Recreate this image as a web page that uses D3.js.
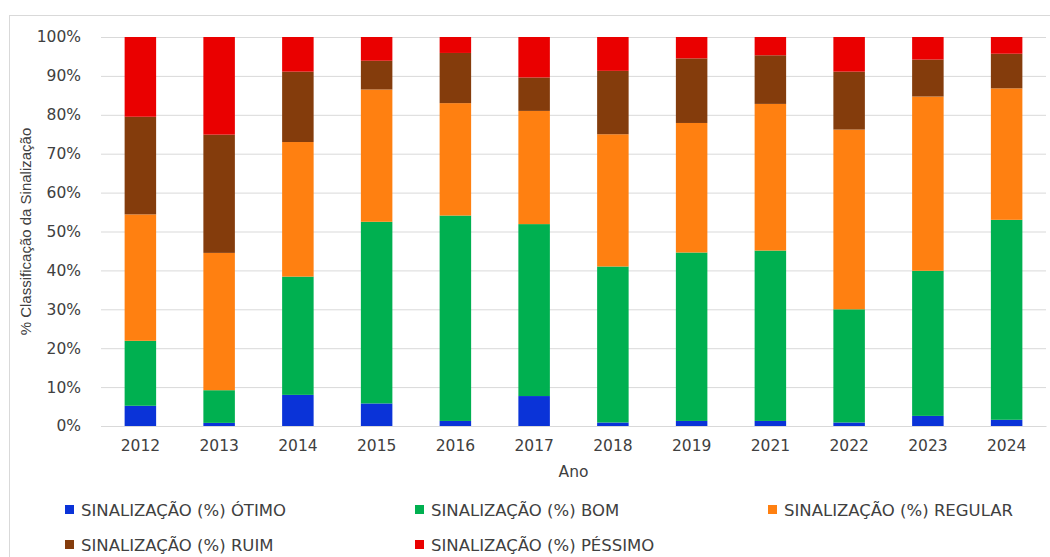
<!DOCTYPE html>
<html><head><meta charset="utf-8">
<script src="https://cdn.jsdelivr.net/npm/d3@7"></script>
<style>body{margin:0;background:#fff;font-family:"DejaVu Sans",sans-serif;}</style>
</head><body><svg id="c" width="1050" height="557"></svg>
<script>
const years = ["2012","2013","2014","2015","2016","2017","2018","2019","2021","2022","2023","2024"];
const seriesNames = ["SINALIZAÇÃO (%) ÓTIMO","SINALIZAÇÃO (%) BOM","SINALIZAÇÃO (%) REGULAR","SINALIZAÇÃO (%) RUIM","SINALIZAÇÃO (%) PÉSSIMO"];
const otimo   = [5.2, 0.8, 8.0, 5.8, 1.3, 7.7, 0.9, 1.3, 1.3, 0.9, 2.6, 1.6];
const bom     = [16.7, 8.4, 30.4, 46.7, 52.8, 44.2, 40.1, 43.3, 43.8, 29.1, 37.3, 51.4];
const regular = [32.5, 35.3, 34.6, 34.0, 28.9, 29.1, 34.0, 33.3, 37.7, 46.2, 44.8, 33.8];
const ruim    = [25.1, 30.4, 18.1, 7.4, 12.9, 8.6, 16.3, 16.6, 12.5, 14.9, 9.5, 8.9];
const pessimo = [20.5, 25.1, 8.9, 6.1, 4.1, 10.4, 8.7, 5.5, 4.7, 8.9, 5.8, 4.3];
const yTicks = [0,10,20,30,40,50,60,70,80,90,100];
const colors = ["#0a33d8","#00b050","#ff8011","#843c0c","#ea0000"];

const svg = d3.select("#c");
svg.append("rect").attr("x",9.5).attr("y",15.5).attr("width",1060).attr("height",560)
  .attr("fill","none").attr("stroke","#d9d9d9");

const m = {l:101, r:1046, t:37, b:426};
const x = d3.scaleBand().domain(years).range([m.l,m.r]).paddingInner(0.6).paddingOuter(0.3);
const y = d3.scaleLinear().domain([0,100]).range([m.b,m.t]);

const arrs = [otimo,bom,regular,ruim,pessimo];
const rows = years.map((yr,i)=>{const o={year:yr}; arrs.forEach((a,k)=>o["s"+k]=a[i]); return o;});
const stack = d3.stack().keys(arrs.map((a,k)=>"s"+k)).offset(d3.stackOffsetExpand);
const stacked = stack(rows);

const gy = svg.append("g").attr("transform",`translate(${m.l},0)`)
  .call(d3.axisLeft(y).tickValues(yTicks).tickSize(-(m.r-m.l)).tickFormat(d=>d+"%"));
gy.select(".domain").remove();
gy.selectAll(".tick line").attr("stroke","#d9d9d9").attr("stroke-width",1);
gy.selectAll(".tick text").attr("x",-20).attr("fill","#404040").style("font-size","15.5px")
  .style("font-family","'DejaVu Sans',sans-serif");

const ys = d3.scaleLinear().domain([0,1]).range([m.b,m.t]);
stacked.forEach((layer,k)=>{
  svg.append("g").attr("fill",colors[k]).selectAll("rect").data(layer).join("rect")
    .attr("x",d=>x(d.data.year)).attr("width",x.bandwidth())
    .attr("y",d=>ys(d[1])).attr("height",d=>ys(d[0])-ys(d[1]));
});

const gx = svg.append("g").attr("transform",`translate(0,${m.b})`).call(d3.axisBottom(x).tickSize(0));
gx.select(".domain").attr("stroke","#d9d9d9");
gx.selectAll(".tick text").attr("dy","1.4em").attr("fill","#404040").style("font-size","15.5px")
  .style("font-family","'DejaVu Sans',sans-serif");

svg.append("text").attr("x",(m.l+m.r)/2).attr("y",477).attr("text-anchor","middle")
  .attr("fill","#404040").style("font-size","15.5px").text("Ano");
svg.append("text").attr("transform",`translate(31,${(m.t+m.b)/2}) rotate(-90)`).attr("text-anchor","middle")
  .attr("fill","#404040").style("font-family","'Liberation Sans Narrow','Liberation Sans',sans-serif")
  .style("font-size","15px").text("% Classificação da Sinalização");

const legPos = [[65,510],[415,510],[768,510],[65,545],[415,545]];
seriesNames.forEach((n,k)=>{
  const g = svg.append("g").attr("transform",`translate(${legPos[k][0]},${legPos[k][1]})`);
  g.append("rect").attr("x",0).attr("y",-5).attr("width",9).attr("height",9).attr("fill",colors[k]);
  g.append("text").attr("x",16).attr("y",0).attr("dy","0.35em").attr("fill","#404040")
    .style("font-size","16.5px").text(n);
});
</script></body></html>
